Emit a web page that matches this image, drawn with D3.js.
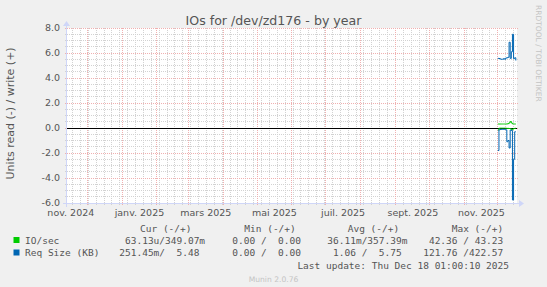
<!DOCTYPE html>
<html><head><meta charset="utf-8">
<script src="https://cdn.jsdelivr.net/npm/d3@7"></script>
<style>body{margin:0;background:#f0f0f0}svg{display:block}</style>
</head><body>
<script>
// ---- data ----
const title = "IOs for /dev/zd176 - by year";
const yLabel = "Units read (-) / write (+)";
const rangeStart = "2024-11-13T01:00:10Z";
const rangeEnd = "2025-12-18T01:00:10Z";
const dates = ["2025-12-01","2025-12-02","2025-12-03","2025-12-04","2025-12-05","2025-12-06","2025-12-07","2025-12-08","2025-12-09","2025-12-10","2025-12-11","2025-12-12","2025-12-13","2025-12-14","2025-12-15","2025-12-16","2025-12-17"];
const ioWrite = [0.32,0.32,0.32,0.32,0.32,0.32,0.32,0.32,0.33,0.35,0.42,0.52,0.40,0.33,0.32,0.32,0.32];
const ioRead  = [0.16,0.02,0.01,0.01,0.01,0.01,0.01,0.02,0.03,0.03,0.04,0.05,0.16,0.10,0.04,0.02,0.02];
const reqWrite = [5.57,5.56,5.52,5.50,5.50,5.55,5.50,5.60,5.62,5.66,6.86,5.57,6.10,7.50,5.55,5.62,5.40];
const reqRead  = [1.80,0.15,0.12,0.12,0.10,0.12,0.12,0.15,1.10,1.00,1.60,0.16,0.20,5.76,2.50,0.30,0.30];
const yTicks = [-6,-4,-2,0,2,4,6,8];
const xTickMonths = ["2024-11-01","2025-01-01","2025-03-01","2025-05-01","2025-07-01","2025-09-01","2025-11-01"];
const xTickLabels = ["nov. 2024","janv. 2025","mars 2025","mai 2025","juil. 2025","sept. 2025","nov. 2025"];
const legendHeaders = ["Cur (-/+)","Min (-/+)","Avg (-/+)","Max (-/+)"];
const seriesNames = ["IO/sec","Req Size (KB)"];
const seriesColors = ["#00cc00","#0066b3"];
const legendValues = [
  [" 63.13u/349.07m","  0.00 /  0.00 "," 36.11m/357.39m"," 42.36 / 43.23 "],
  ["251.45m/  5.48 ","  0.00 /  0.00 ","  1.06 /  5.75 ","121.76 /422.57 "]
];
const lastUpdate = "Last update: Thu Dec 18 01:00:10 2025";
const version = "Munin 2.0.76";
const watermark = "RRDTOOL / TOBI OETIKER";

// ---- layout ----
const W = 547, H = 287;
const X0 = 67, XS = 450, Y0 = 203, YS = 175;
const fontSans = "'DejaVu Sans', sans-serif";
const fontMono = "'DejaVu Sans Mono', monospace";
const textCol = "#555";
const nb = s => s.replace(/ /g, "\u00a0");

const svg = d3.select("body").append("svg").attr("width", W).attr("height", H);
svg.append("rect").attr("width", W).attr("height", H).attr("fill", "#f0f0f0");

const start = new Date(rangeStart), end = new Date(rangeEnd);
const x = d3.scaleUtc().domain([start, end]).range([X0, X0 + XS]);
const y = d3.scaleLinear().domain([-6, 8]).range([Y0, Y0 - YS]);
const px = v => Math.floor(v) + 0.5;

svg.append("rect").attr("x", X0).attr("y", Y0 - YS).attr("width", XS).attr("height", YS).attr("fill", "#ffffff");

const grid = svg.append("g").attr("fill", "none").attr("stroke-width", 1);
const minorCol = "#d2d2d2", majorCol = "#f0b0b0";
const hMinor = d3.range(-6, 8.001, 0.5).filter(v => Math.abs(v % 2) > 1e-9);
hMinor.forEach(v => {
  const yy = px(y(v));
  grid.append("line").attr("x1", X0 - 2).attr("x2", X0 + XS + 2).attr("y1", yy).attr("y2", yy)
    .attr("stroke", minorCol).attr("stroke-dasharray", "1,1");
});
d3.utcMonday.range(start, end).forEach(d => {
  const xx = px(x(d));
  grid.append("line").attr("x1", xx).attr("x2", xx).attr("y1", Y0 + 2).attr("y2", Y0 - YS)
    .attr("stroke", minorCol).attr("stroke-dasharray", "1,1");
});
yTicks.forEach(v => {
  const yy = px(y(v));
  grid.append("line").attr("x1", X0 - 2).attr("x2", X0 + XS + 2).attr("y1", yy).attr("y2", yy)
    .attr("stroke", majorCol).attr("stroke-dasharray", "1,1");
});
d3.utcMonth.range(start, end).forEach(d => {
  const xx = px(x(d));
  grid.append("line").attr("x1", xx).attr("x2", xx).attr("y1", Y0 + 2).attr("y2", Y0 - YS)
    .attr("stroke", majorCol).attr("stroke-dasharray", "1,1");
});

// axes lines + arrows
const axisCol = "#cfd6f8";
svg.append("line").attr("x1", X0 - 4).attr("x2", X0 + XS + 4).attr("y1", Y0 + 0.5).attr("y2", Y0 + 0.5).attr("stroke", axisCol);
svg.append("line").attr("x1", X0 - 0.5).attr("x2", X0 - 0.5).attr("y1", Y0 + 4).attr("y2", Y0 - YS - 4).attr("stroke", axisCol);
svg.append("path").attr("d", `M${X0+XS+2},${Y0-3}L${X0+XS+2},${Y0+4}L${X0+XS+7},${Y0+0.5}Z`).attr("fill", axisCol);
svg.append("path").attr("d", `M${X0-4},${Y0-YS-2}L${X0+3},${Y0-YS-2}L${X0-0.5},${Y0-YS-7}Z`).attr("fill", axisCol);

// zero line
svg.append("line").attr("x1", X0).attr("x2", X0 + XS).attr("y1", px(y(0))).attr("y2", px(y(0)))
  .attr("stroke", "#000").attr("stroke-width", 1);

// data
const pts = (arr, sign) => arr.map((v, i) => ({ d: new Date(dates[i] + "T00:00:00Z"), v: sign * v }));
const line = d3.line().x(p => x(p.d)).y(p => y(p.v)).curve(d3.curveStepAfter);
const seriesDraw = [
  [pts(ioRead, -1), seriesColors[0]],
  [pts(ioWrite, 1), seriesColors[0]],
  [pts(reqRead, -1), seriesColors[1]],
  [pts(reqWrite, 1), seriesColors[1]]
];
seriesDraw.forEach(([p, c]) => {
  svg.append("path").attr("d", line(p)).attr("fill", "none").attr("stroke", c).attr("stroke-width", 1);
});

// y axis labels
const yAxis = svg.append("g").attr("transform", `translate(${X0},0)`)
  .call(d3.axisLeft(y).tickValues(yTicks).tickFormat(v => v.toFixed(1)).tickSize(0).tickPadding(7));
yAxis.select(".domain").remove();
yAxis.selectAll("text").attr("font-family", fontSans).attr("font-size", "9.5px").attr("fill", textCol).attr("dy", "0.3em");

// x axis labels (month labels centred half a month after the month start)
const labelDates = xTickMonths.map(s => d3.utcDay.offset(new Date(s + "T00:00:00Z"), 15));
const xAxis = svg.append("g").attr("transform", `translate(0,${Y0})`)
  .call(d3.axisBottom(x).tickValues(labelDates).tickFormat((d, i) => xTickLabels[i]).tickSize(0).tickPadding(6.5));
xAxis.select(".domain").remove();
xAxis.selectAll("text").attr("font-family", fontSans).attr("font-size", "9.5px").attr("fill", textCol);

// title
svg.append("text").attr("x", W / 2).attr("y", 25).attr("text-anchor", "middle")
  .attr("font-family", fontSans).attr("font-size", "12.6px").attr("fill", textCol).text(title);

// y label
svg.append("text").attr("transform", "translate(13.6,113.4) rotate(-90)").attr("text-anchor", "middle")
  .attr("font-family", fontSans).attr("font-size", "11px").attr("fill", textCol).text(yLabel);

// watermark vertical
svg.append("text").attr("transform", "translate(536,5) rotate(90)").attr("text-anchor", "start")
  .attr("font-family", fontSans).attr("font-size", "7.5px").attr("fill", "#c4c4c4").text(watermark);

// legend
const leg = svg.append("g").attr("font-family", fontMono).attr("font-size", "9.5px").attr("fill", textCol);
const headerX = [140, 244.3, 347.7, 451.7];
legendHeaders.forEach((h, i) => leg.append("text").attr("x", headerX[i]).attr("y", 231.5).text(nb(h)));
const colX = [119.3, 220.9, 321.6, 423.2];
const rowY = [243.5, 256];
seriesNames.forEach((n, r) => {
  leg.append("rect").attr("x", 13.5).attr("y", rowY[r] - 6.5).attr("width", 6).attr("height", 6).attr("fill", seriesColors[r]);
  leg.append("text").attr("x", 25).attr("y", rowY[r]).text(nb(n));
  legendValues[r].forEach((v, c) => leg.append("text").attr("x", colX[c]).attr("y", rowY[r]).text(nb(v)));
});
leg.append("text").attr("x", 509).attr("y", 268.5).attr("text-anchor", "end").text(nb(lastUpdate));

svg.append("text").attr("x", W / 2).attr("y", 282).attr("text-anchor", "middle")
  .attr("font-family", fontSans).attr("font-size", "7.6px").attr("fill", "#c4c4c4").text(version);
</script>
</body></html>
